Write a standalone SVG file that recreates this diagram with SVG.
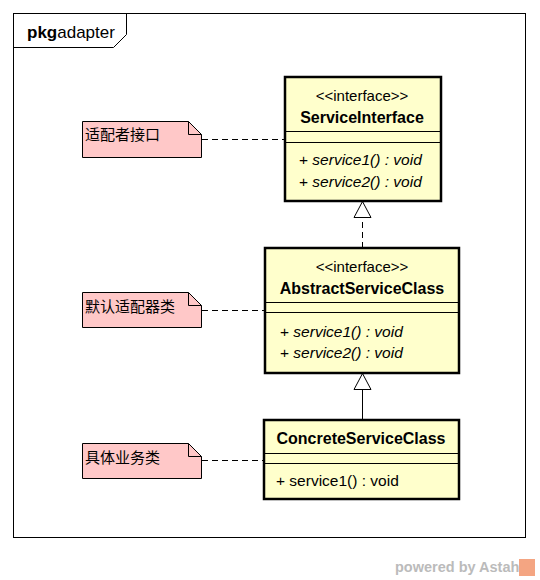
<svg xmlns="http://www.w3.org/2000/svg" width="540" height="580" viewBox="0 0 540 580">
<style>
.cls{fill:#FFFFCC;stroke:#000;stroke-width:2.5}
.sep{stroke:#000;stroke-width:1}
.t{font-family:"Liberation Sans",Arial,sans-serif;font-size:15.5px;fill:#000}
.st{font-size:15px}
.b{font-weight:bold;font-size:16px}
.i{font-style:italic}
.note{fill:#FFC8C8;stroke:#000;stroke-width:1}
.nt{font-family:"Noto Sans CJK SC","Noto Sans",sans-serif;font-size:15px;fill:#000}
.dash{stroke:#000;stroke-width:1;stroke-dasharray:6,4;fill:none}
.line{stroke:#000;stroke-width:1;fill:none}
</style>
<rect width="540" height="580" fill="#fff"/>
<g id="frame">
<rect x="13.5" y="13.5" width="512" height="524" fill="none" stroke="#000"/>
<path d="M13.5 47.5 H113.5 L126.5 34.5 V13.5" fill="none" stroke="#000"/>
<text x="27" y="38" class="t" style="font-size:17px"><tspan font-weight="bold">pkg</tspan>adapter</text>
</g>
<g id="connectors">
<line x1="202" y1="139.5" x2="285" y2="139.5" class="dash"/>
<line x1="202" y1="310.5" x2="265" y2="310.5" class="dash"/>
<line x1="202" y1="460.5" x2="264" y2="460.5" class="dash"/>
<line x1="362.5" y1="248" x2="362.5" y2="217" class="dash"/>
<polygon points="362.5,201.5 354,217.5 371,217.5" fill="#fff" stroke="#000"/>
<line x1="362.5" y1="420" x2="362.5" y2="389" class="line"/>
<polygon points="362.5,373.5 354,389.5 371,389.5" fill="#fff" stroke="#000"/>
</g>
<g id="ServiceInterface">
<rect x="285" y="77" width="156" height="124" class="cls"/>
<line x1="285" y1="131.5" x2="441" y2="131.5" class="sep"/>
<line x1="285" y1="142.5" x2="441" y2="142.5" class="sep"/>
<text x="362" y="101" class="t st" text-anchor="middle">&lt;&lt;interface&gt;&gt;</text>
<text x="362" y="123" class="t b" text-anchor="middle">ServiceInterface</text>
<text x="299" y="165" class="t"><tspan>+ </tspan><tspan class="i">service1() : void</tspan></text>
<text x="299" y="187" class="t"><tspan>+ </tspan><tspan class="i">service2() : void</tspan></text>
</g>
<g id="AbstractServiceClass">
<rect x="265" y="248" width="194" height="125" class="cls"/>
<line x1="265" y1="302.5" x2="459" y2="302.5" class="sep"/>
<line x1="265" y1="312.5" x2="459" y2="312.5" class="sep"/>
<text x="362" y="272" class="t st" text-anchor="middle">&lt;&lt;interface&gt;&gt;</text>
<text x="362" y="294" class="t b" text-anchor="middle">AbstractServiceClass</text>
<text x="280" y="337" class="t"><tspan>+ </tspan><tspan class="i">service1() : void</tspan></text>
<text x="280" y="358" class="t"><tspan>+ </tspan><tspan class="i">service2() : void</tspan></text>
</g>
<g id="ConcreteServiceClass">
<rect x="264" y="420" width="195" height="79" class="cls"/>
<line x1="264" y1="453.5" x2="459" y2="453.5" class="sep"/>
<line x1="264" y1="463.5" x2="459" y2="463.5" class="sep"/>
<text x="361" y="444" class="t b" text-anchor="middle">ConcreteServiceClass</text>
<text x="276" y="486" class="t">+ service1() : void</text>
</g>
<g id="note1">
<path d="M82.5 121.5 H188.5 L201.5 134.5 V157.5 H82.5 Z" class="note"/>
<path d="M188.5 121.5 V134.5 H201.5" fill="none" stroke="#000"/>
<text x="85" y="140" class="nt">适配者接口</text>
</g>
<g id="note2">
<path d="M82.5 292.5 H188.5 L201.5 305.5 V327.5 H82.5 Z" class="note"/>
<path d="M188.5 292.5 V305.5 H201.5" fill="none" stroke="#000"/>
<text x="85" y="312" class="nt">默认适配器类</text>
</g>
<g id="note3">
<path d="M82.5 443.5 H188.5 L201.5 456.5 V478.5 H82.5 Z" class="note"/>
<path d="M188.5 443.5 V456.5 H201.5" fill="none" stroke="#000"/>
<text x="85" y="463" class="nt">具体业务类</text>
</g>
<g id="watermark">
<text x="395" y="572" font-family="'Liberation Sans',Arial,sans-serif" font-size="14.5" font-weight="bold" fill="#BBBBBB">powered by Astah</text>
<rect x="519" y="559" width="16" height="17" fill="#F4A582"/>
</g>
</svg>
